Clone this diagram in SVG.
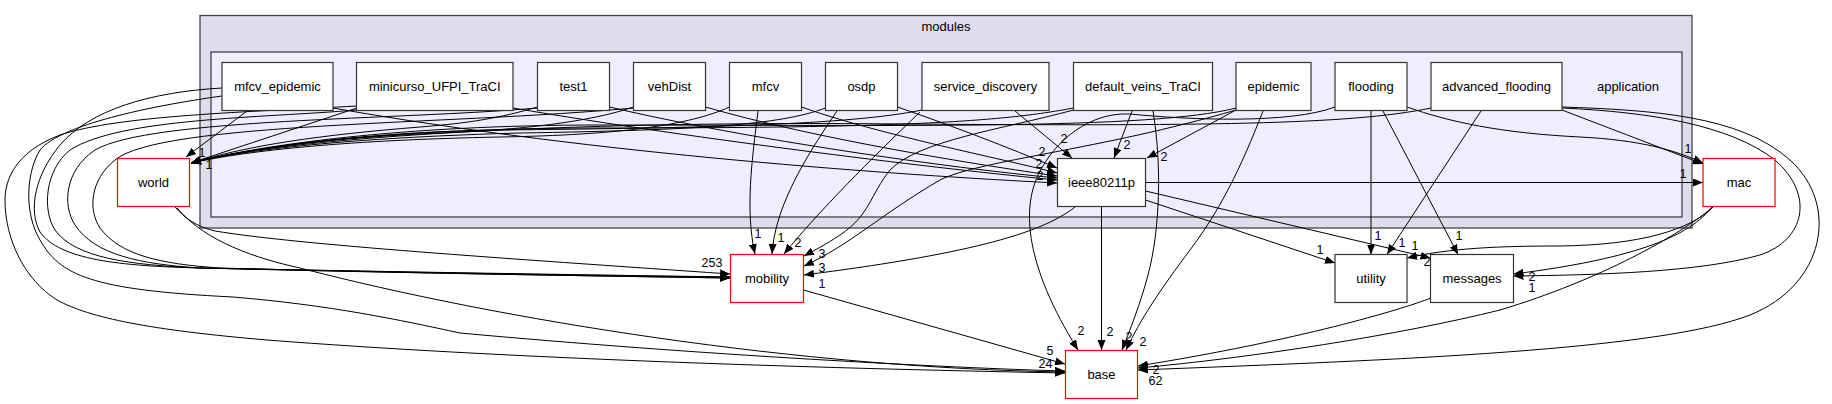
<svg xmlns="http://www.w3.org/2000/svg" width="1832" height="404" viewBox="0 0 1832 404">
<style>
.cl{stroke:#444444;stroke-width:1.3}
.nd{fill:#ffffff;stroke:#333333;stroke-width:1.2}
.rd{fill:#ffffff;stroke:#ff0000;stroke-width:1.2}
.nt{font-family:"Liberation Sans",Arial,sans-serif;font-size:13px;fill:#000;text-anchor:middle}
.lb{font-family:"Liberation Sans",Arial,sans-serif;font-size:12.5px;fill:#000;text-anchor:middle}
#edges path{fill:none;stroke:#000;stroke-width:1;marker-end:url(#ah)}
</style>
<defs>
<marker id="ah" viewBox="0 0 10 8" refX="10" refY="4" markerWidth="10" markerHeight="8" markerUnits="userSpaceOnUse" orient="auto">
<path d="M0,0 L10,4 L0,8 z" fill="#000"/>
</marker>
</defs>
<rect width="1832" height="404" fill="#ffffff"/>
<g id="cluster_modules">
<rect class="cl" x="200" y="15.5" width="1492" height="212.5" fill="#ddddee"/>
<text class="nt" x="946" y="31">modules</text>
</g>
<g id="cluster_application">
<rect class="cl" x="211" y="52" width="1471" height="165" fill="#eeeeff"/>
<text class="nt" x="1628" y="91">application</text>
</g>
<g id="edges">
<!-- to world -->
<path d="M247,111 L186,157"/>
<path d="M357,108 L191,163"/>
<path d="M537.5,107 C500,118 470,123 420,127 C320,135 250,145 191,163"/>
<path d="M633.5,107 C590,122 520,130 440,133 C330,138 250,148 191,163"/>
<path d="M729.5,107 C690,125 620,135 500,137 C350,140 250,150 191,163"/>
<path d="M825.5,108 C780,125 700,130 520,133 C370,137 250,148 191,163"/>
<path d="M922,110 C850,125 700,128 500,130 C360,132 250,148 191,163"/>
<path d="M1073.5,108 C1000,122 900,128 600,128 C400,128 260,145 191,163"/>
<path d="M1236,108 C1150,130 900,125 600,125 C400,125 260,145 191,163"/>
<path d="M1431,108 C1350,125 1200,126 900,124 C500,120 260,143 191,163"/>
<!-- to ieee80211p -->
<path d="M333,108 C600,155 900,175 1057,183"/>
<path d="M513,108 C700,140 950,170 1057,180"/>
<path d="M609.5,107 C750,140 950,168 1057,178"/>
<path d="M705.5,107 C820,140 980,165 1057,176"/>
<path d="M801.5,107 C880,135 1000,158 1057,173"/>
<path d="M897.5,107 C950,125 1010,148 1057,168"/>
<path d="M1015,111 L1072,158"/>
<path d="M1132,111 L1114,158"/>
<path d="M1236,110 L1147,158"/>
<!-- to mobility -->
<path d="M758,111 C752,160 745,210 755,254"/>
<path d="M837,111 C800,165 775,210 772,254"/>
<path d="M920,112 C870,160 820,210 784,254"/>
<path d="M1073.5,110 C1000,130 920,140 890,170 C870,195 870,215 840,235 C825,245 815,250 804,256"/>
<path d="M1236,110 C1100,150 980,160 940,180 C880,215 850,245 804,266"/>
<path d="M1075,207 C1040,235 960,255 804,275"/>
<path d="M175,207 C185,218 195,226 215,231 C300,245 500,258 730,274"/>
<path d="M222,88 C150,92 90,110 60,145 C35,175 28,210 40,232 C60,260 120,266 200,268 C400,272 600,275 730,277"/>
<path d="M357,110 C260,118 120,118 70,150 C45,170 42,210 55,230 C75,258 130,265 200,268 C400,272 600,276 730,277"/>
<path d="M537.5,108 C400,120 150,118 95,150 C65,170 62,205 75,225 C95,255 140,264 200,268 C400,273 600,276 730,278"/>
<path d="M633.5,108 C450,125 160,122 115,160 C90,180 88,210 100,228 C120,255 160,264 220,268 C400,273 600,276 730,278"/>
<!-- to base -->
<path d="M803.5,290 L1065,364"/>
<path d="M177,208 C200,235 240,255 300,268 C500,320 800,368 1065,372"/>
<path d="M357,106 C250,112 120,115 60,135 C15,152 5,180 5,200 C5,240 25,280 57,300 C90,318 150,330 267,340 C500,358 800,368 1065,373"/>
<path d="M222,96 C150,106 60,125 40,150 C25,175 25,215 40,240 C60,275 90,290 233,297 C330,305 400,320 460,333 C700,355 950,368 1065,371"/>
<path d="M1335,107 C1290,124 1190,120 1130,114 C1090,112 1055,140 1038,175 C1022,210 1025,265 1078,350"/>
<path d="M1101.5,206.5 L1101.5,350"/>
<path d="M1153,111 C1162,165 1160,230 1148,275 C1140,305 1130,330 1122,350"/>
<path d="M1263,111 C1240,170 1220,210 1190,250 C1160,290 1140,320 1126,350"/>
<path d="M1431,298 C1400,310 1300,340 1138,366"/>
<path d="M1713,207 C1680,235 1600,280 1500,310 C1400,335 1250,358 1138,368"/>
<path d="M1562,107 C1650,110 1740,115 1790,160 C1840,205 1825,285 1750,315 C1660,350 1400,360 1138,370"/>
<!-- to mac -->
<path d="M1145.5,182.5 L1703,182.5"/>
<path d="M1407,107 C1450,122 1500,133 1580,137 C1640,140 1675,150 1703,163"/>
<path d="M1562,110 L1703,164"/>
<!-- to utility -->
<path d="M1371,111 L1371,254.5"/>
<path d="M1481,111 L1387,254.5"/>
<path d="M1145.5,200 L1335,263"/>
<path d="M1713,207 C1690,230 1640,245 1560,246 C1500,246 1450,248 1407,258"/>
<!-- to messages -->
<path d="M1383,111 L1458,254.5"/>
<path d="M1145.5,191 L1430.5,258"/>
<path d="M1712,207 C1690,235 1640,258 1513.5,274"/>
<path d="M1562,108 C1650,112 1730,125 1775,160 C1815,195 1805,240 1760,255 C1700,272 1600,275 1513.5,276"/>
</g>
<g id="edge_labels">
<text class="lb" x="202" y="157">1</text>
<text class="lb" x="209" y="169">1</text>
<text class="lb" x="1064" y="143">2</text>
<text class="lb" x="1127" y="149">2</text>
<text class="lb" x="1164" y="161">2</text>
<text class="lb" x="1042" y="156">2</text>
<text class="lb" x="1039" y="168">2</text>
<text class="lb" x="1040" y="180">2</text>
<text class="lb" x="758" y="238">1</text>
<text class="lb" x="781" y="242">1</text>
<text class="lb" x="798" y="247">2</text>
<text class="lb" x="822" y="258">3</text>
<text class="lb" x="822" y="272">3</text>
<text class="lb" x="822" y="288">1</text>
<text class="lb" x="705" y="267">2</text>
<text class="lb" x="712" y="267">5</text>
<text class="lb" x="719" y="267">3</text>
<text class="lb" x="1050" y="355">5</text>
<text class="lb" x="1042" y="368">2</text>
<text class="lb" x="1049" y="368">4</text>
<text class="lb" x="1081" y="335">2</text>
<text class="lb" x="1110" y="336">2</text>
<text class="lb" x="1129" y="341">2</text>
<text class="lb" x="1143" y="346">2</text>
<text class="lb" x="1156" y="374">2</text>
<text class="lb" x="1152" y="385">6</text>
<text class="lb" x="1159" y="385">2</text>
<text class="lb" x="1688" y="153">1</text>
<text class="lb" x="1683" y="178">1</text>
<text class="lb" x="1378" y="240">1</text>
<text class="lb" x="1402" y="247">1</text>
<text class="lb" x="1320" y="254">1</text>
<text class="lb" x="1415" y="250">1</text>
<text class="lb" x="1427" y="266">2</text>
<text class="lb" x="1459" y="240">1</text>
<text class="lb" x="1532" y="281">2</text>
<text class="lb" x="1532" y="292">1</text>
</g>
<g id="node_mfcv_epidemic"><rect class="nd" x="222" y="62.5" width="111" height="48"/><text class="nt" x="277.5" y="91">mfcv_epidemic</text></g>
<g id="node_minicurso"><rect class="nd" x="356.5" y="62.5" width="156.5" height="48"/><text class="nt" x="434.75" y="91">minicurso_UFPI_TraCI</text></g>
<g id="node_test1"><rect class="nd" x="537.5" y="62.5" width="72" height="48"/><text class="nt" x="573.5" y="91">test1</text></g>
<g id="node_vehDist"><rect class="nd" x="633.5" y="62.5" width="72" height="48"/><text class="nt" x="669.5" y="91">vehDist</text></g>
<g id="node_mfcv"><rect class="nd" x="729.5" y="62.5" width="72" height="48"/><text class="nt" x="765.5" y="91">mfcv</text></g>
<g id="node_osdp"><rect class="nd" x="825.5" y="62.5" width="72" height="48"/><text class="nt" x="861.5" y="91">osdp</text></g>
<g id="node_service_discovery"><rect class="nd" x="922" y="62.5" width="127" height="48"/><text class="nt" x="985.5" y="91">service_discovery</text></g>
<g id="node_default_veins_TraCI"><rect class="nd" x="1073.5" y="62.5" width="139" height="48"/><text class="nt" x="1143" y="91">default_veins_TraCI</text></g>
<g id="node_epidemic"><rect class="nd" x="1236" y="62.5" width="75" height="48"/><text class="nt" x="1273.5" y="91">epidemic</text></g>
<g id="node_flooding"><rect class="nd" x="1335" y="62.5" width="72" height="48"/><text class="nt" x="1371" y="91">flooding</text></g>
<g id="node_advanced_flooding"><rect class="nd" x="1431" y="62.5" width="131" height="48"/><text class="nt" x="1496.5" y="91">advanced_flooding</text></g>
<g id="node_ieee80211p"><rect class="nd" x="1057.5" y="158.5" width="88" height="48"/><text class="nt" x="1101.5" y="187">ieee80211p</text></g>
<g id="node_world"><rect class="rd" x="117.5" y="158.5" width="72" height="48"/><text class="nt" x="153.5" y="187">world</text></g>
<g id="node_mac"><rect class="rd" x="1703" y="158.5" width="72" height="48"/><text class="nt" x="1739" y="187">mac</text></g>
<g id="node_mobility"><rect class="rd" x="730.5" y="254.5" width="73" height="48"/><text class="nt" x="767" y="283">mobility</text></g>
<g id="node_utility"><rect class="nd" x="1335" y="254.5" width="72" height="48"/><text class="nt" x="1371" y="283">utility</text></g>
<g id="node_messages"><rect class="nd" x="1430.5" y="254.5" width="83" height="48"/><text class="nt" x="1472" y="283">messages</text></g>
<g id="node_base"><rect class="rd" x="1065.5" y="350.5" width="72" height="48"/><text class="nt" x="1101.5" y="379">base</text></g>
</svg>
